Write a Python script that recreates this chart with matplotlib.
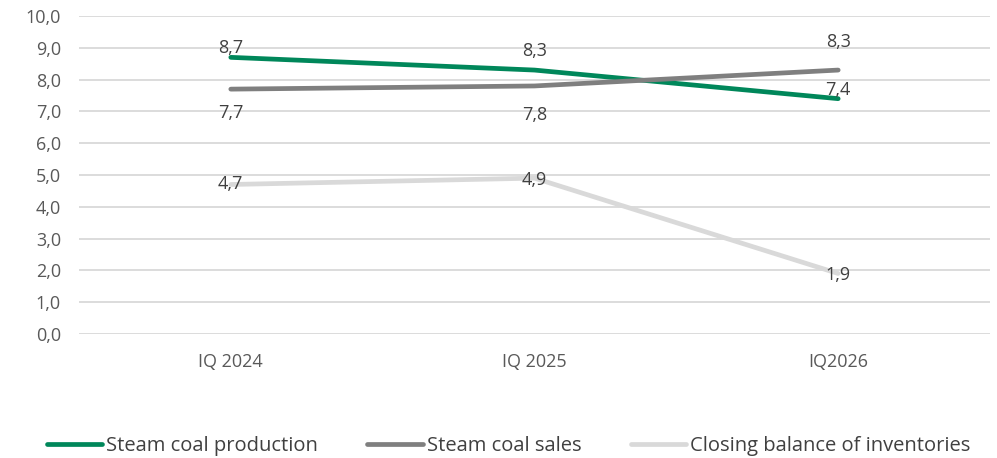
import matplotlib
matplotlib.use("Agg")
import matplotlib.pyplot as plt

# ------------------------------
# Data (million tonnes)
# ------------------------------
CATEGORIES = ["IQ 2024", "IQ 2025", "IQ2026"]
PRODUCTION = [8.7, 8.3, 7.4]
SALES = [7.7, 7.8, 8.3]
INVENTORIES = [4.7, 4.9, 1.9]
Y_TICKS = [0, 1, 2, 3, 4, 5, 6, 7, 8, 9, 10]

SERIES_NAMES = ["Steam coal production", "Steam coal sales", "Closing balance of inventories"]

# label offsets (points, + is up) - mimics the excel label placement
PROD_OFFSETS = [7, 14, 6]
SALES_OFFSETS = [-17, -21, 20]
INV_OFFSETS = [0, -1, -1]

COLORS = ["#00875A", "#7F7F7F", "#D9D9D9"]

plt.rcParams['font.family'] = ['Open Sans', 'DejaVu Sans']

fig = plt.figure(figsize=(9.97, 4.58), dpi=100)
ax = fig.add_axes([0.0792, 0.271, 0.9138, 0.694])

x = list(range(len(CATEGORIES)))
all_series = [PRODUCTION, SALES, INVENTORIES]
all_offsets = [PROD_OFFSETS, SALES_OFFSETS, INV_OFFSETS]

for vals, name, col in zip(all_series, SERIES_NAMES, COLORS):
    ax.plot(x, vals, color=col, linewidth=3.4, label=name,
            solid_capstyle='round', zorder=3)

for vals, offs in zip(all_series, all_offsets):
    for xi, v, o in zip(x, vals, offs):
        ax.annotate(f"{v:.1f}".replace(".", ","), (xi, v),
                    xytext=(0, o), textcoords="offset points",
                    ha="center", va="center", fontsize=13,
                    color="#404040", zorder=4)

ax.set_xlim(-0.5, 2.5)
ax.set_ylim(0, 10)
ax.set_yticks(Y_TICKS)
ax.set_yticklabels([f"{t:.1f}".replace(".", ",") for t in Y_TICKS])
ax.set_xticks(x)
ax.set_xticklabels(CATEGORIES)

ax.tick_params(axis="both", length=0, labelsize=13, labelcolor="#595959")
ax.tick_params(axis="y", pad=13)
ax.tick_params(axis="x", pad=14)

ax.grid(axis="y", color="#D9D9D9", linewidth=1.3, zorder=0)
ax.set_axisbelow(True)
for s in ax.spines.values():
    s.set_visible(False)

fig.legend(loc="center", bbox_to_anchor=(0.51, 0.026), ncol=3, frameon=False,
           fontsize=14.5, handlelength=2.75, handletextpad=0.2,
           columnspacing=2.45, labelcolor="#404040")

fig.savefig("out.png", dpi=100)
